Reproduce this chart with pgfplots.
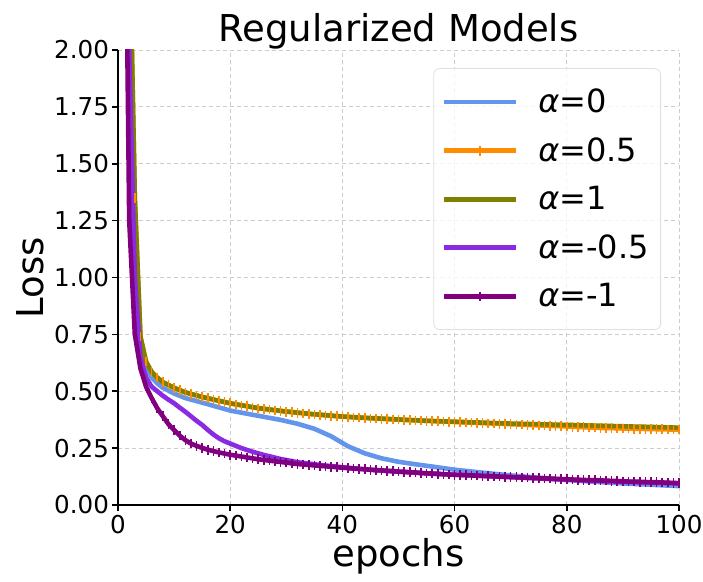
\documentclass[border=0pt]{standalone}
\usepackage{fontspec}
\setmainfont{DejaVu Sans}
\usepackage{pgfplots}
\pgfplotsset{compat=1.18}
\definecolor{cblue}{RGB}{100,149,237}
\definecolor{dorange}{RGB}{255,140,0}
\definecolor{volive}{RGB}{128,128,0}
\definecolor{bviolet}{RGB}{138,43,226}
\definecolor{vpurple}{RGB}{128,0,128}
\begin{document}
\begin{tikzpicture}
\begin{axis}[
  width=280.5pt, height=227.5pt, scale only axis,
  xmin=0, xmax=100, ymin=0, ymax=2,
  xtick={0,20,40,60,80,100},
  ytick={0,0.25,0.5,0.75,1,1.25,1.5,1.75,2},
  axis x line*=bottom, axis y line*=left,
  axis line style={line width=1pt, -},
  tick align=outside, major tick length=2.8pt,
  tick style={black, line width=0.8pt},
  yticklabel style={inner xsep=1.5pt, /pgf/number format/fixed,
    /pgf/number format/fixed zerofill, /pgf/number format/precision=2},
  /pgf/number format/assume math mode=true,
  ticklabel style={font=\fontsize{12.3}{14}\selectfont},
  xticklabel style={inner ysep=2pt},
  grid=major, major grid style={gray!40, line width=0.4pt, dash pattern=on 2pt off 1.5pt},
  title={Regularized Models},
  title style={font=\fontsize{18.5}{21}\selectfont, yshift=-9pt},
  xlabel={epochs}, ylabel={Loss},
  label style={font=\fontsize{18.5}{21}\selectfont},
  xlabel style={yshift=3pt},
  ylabel style={yshift=0pt},
  legend style={at={(0.968,0.96)}, anchor=north east, draw=gray!25,
    rounded corners=3pt, fill=white, fill opacity=0.8, text opacity=1,
    font=\fontsize{16}{19}\selectfont, row sep=7pt, column sep=8pt,
    inner xsep=4pt, inner ysep=8pt},
  legend cell align=left,
  legend image code/.code={\draw[mark repeat=2, mark phase=2, #1] plot coordinates {(0pt,0pt) (18pt,0pt) (36pt,0pt)};},
  every axis plot/.append style={line width=2.3pt},
]
% alpha = 0
\addplot[cblue] coordinates {
 (1,3.8) (2,2.3) (3,1.2) (4,0.72) (5,0.6) (6,0.56) (7,0.535) (8,0.515) (10,0.49)
 (12,0.47) (15,0.45) (20,0.415) (25,0.392) (29,0.374) (32,0.357) (35,0.335)
 (38,0.302) (41,0.258) (44,0.227) (47,0.205) (50,0.19) (53,0.179) (56,0.169)
 (60,0.155) (65,0.142) (70,0.13) (75,0.12) (80,0.11) (85,0.102) (90,0.095)
 (95,0.089) (100,0.083)};
\addlegendentry{\textit{α}=0}
% alpha = 0.5
\addplot[dorange, mark=|, mark size=2.4pt, mark options={line width=0.8pt}] coordinates {
 (1,4.0) (2,2.6) (3,1.35) (4,0.74) (5,0.63) (6,0.585) (7,0.56) (8,0.54) (9,0.527) (10,0.515)
 (11,0.505) (12,0.495) (13,0.488) (14,0.481) (15,0.475) (16,0.469) (17,0.463) (18,0.457) (19,0.452) (20,0.447)
 (21,0.442) (22,0.438) (23,0.434) (24,0.429) (25,0.425) (26,0.422) (27,0.419) (28,0.416) (29,0.413) (30,0.41)
 (31,0.408) (32,0.405) (33,0.403) (34,0.4) (35,0.398) (36,0.396) (37,0.394) (38,0.392) (39,0.39) (40,0.388)
 (41,0.387) (42,0.385) (43,0.384) (44,0.383) (45,0.381) (46,0.38) (47,0.379) (48,0.378) (49,0.376) (50,0.375)
 (51,0.374) (52,0.373) (53,0.372) (54,0.371) (55,0.37) (56,0.369) (57,0.368) (58,0.367) (59,0.366) (60,0.365)
 (61,0.364) (62,0.363) (63,0.362) (64,0.361) (65,0.36) (66,0.359) (67,0.358) (68,0.357) (69,0.356) (70,0.355)
 (71,0.354) (72,0.353) (73,0.352) (74,0.351) (75,0.35) (76,0.349) (77,0.348) (78,0.347) (79,0.346) (80,0.345)
 (81,0.344) (82,0.343) (83,0.342) (84,0.341) (85,0.34) (86,0.339) (87,0.338) (88,0.338) (89,0.337) (90,0.336)
 (91,0.336) (92,0.335) (93,0.335) (94,0.334) (95,0.334) (96,0.333) (97,0.333) (98,0.332) (99,0.332) (100,0.331)};
\addlegendentry{\textit{α}=0.5}
% alpha = 1
\addplot[volive] coordinates {
 (1,4.0) (2,2.6) (3,1.35) (4,0.74) (5,0.63) (6,0.585) (7,0.56) (8,0.54) (10,0.515)
 (12,0.495) (15,0.475) (20,0.447) (25,0.426) (30,0.411) (35,0.399) (40,0.389)
 (45,0.382) (50,0.376) (55,0.37) (60,0.366) (65,0.362) (70,0.358) (75,0.355)
 (80,0.352) (85,0.349) (90,0.346) (95,0.343) (100,0.34)};
\addlegendentry{\textit{α}=1}
% alpha = -0.5
\addplot[bviolet] coordinates {
 (1,3.6) (2,2.0) (3,1.0) (4,0.65) (5,0.56) (6,0.52) (7,0.5) (8,0.48) (9,0.463) (10,0.447)
 (11,0.428) (12,0.41) (13,0.39) (14,0.37) (15,0.352) (16,0.33) (17,0.31) (18,0.293)
 (19,0.28) (20,0.27) (22,0.25) (24,0.234) (26,0.22) (29,0.202) (32,0.188) (36,0.176)
 (40,0.166) (45,0.155) (50,0.146) (55,0.139) (60,0.133) (70,0.122) (80,0.111)
 (90,0.102) (100,0.095)};
\addlegendentry{\textit{α}=-0.5}
% alpha = -1
\addplot[vpurple, mark=|, mark size=2.4pt, mark options={line width=0.8pt}] coordinates {
 (1,3.5) (2,1.25) (3,0.75) (4,0.6) (5,0.52) (6,0.47) (7,0.425) (8,0.39) (9,0.355) (10,0.33)
 (11,0.305) (12,0.285) (13,0.27) (14,0.26) (15,0.251) (16,0.243) (17,0.237) (18,0.231) (19,0.226) (20,0.221)
 (21,0.217) (22,0.213) (23,0.209) (24,0.205) (25,0.201) (26,0.198) (27,0.195) (28,0.192) (29,0.189) (30,0.186)
 (31,0.183) (32,0.18) (33,0.178) (34,0.176) (35,0.174) (36,0.172) (37,0.17) (38,0.168) (39,0.166) (40,0.164)
 (41,0.162) (42,0.16) (43,0.158) (44,0.157) (45,0.155) (46,0.153) (47,0.152) (48,0.15) (49,0.149) (50,0.147)
 (51,0.146) (52,0.144) (53,0.143) (54,0.141) (55,0.139) (56,0.138) (57,0.137) (58,0.135) (59,0.134) (60,0.133)
 (61,0.132) (62,0.131) (63,0.13) (64,0.129) (65,0.128) (66,0.127) (67,0.126) (68,0.125) (69,0.124) (70,0.123)
 (71,0.122) (72,0.121) (73,0.12) (74,0.119) (75,0.118) (76,0.117) (77,0.116) (78,0.115) (79,0.114) (80,0.113)
 (81,0.112) (82,0.111) (83,0.11) (84,0.109) (85,0.109) (86,0.108) (87,0.107) (88,0.106) (89,0.105) (90,0.104)
 (91,0.103) (92,0.103) (93,0.102) (94,0.101) (95,0.1) (96,0.1) (97,0.099) (98,0.098) (99,0.097) (100,0.096)};
\addlegendentry{\textit{α}=-1}
\end{axis}
\pgfresetboundingbox
\path[use as bounding box] (-59pt,-38.5pt) rectangle (292.5pt,252.5pt);
\end{tikzpicture}
\end{document}
